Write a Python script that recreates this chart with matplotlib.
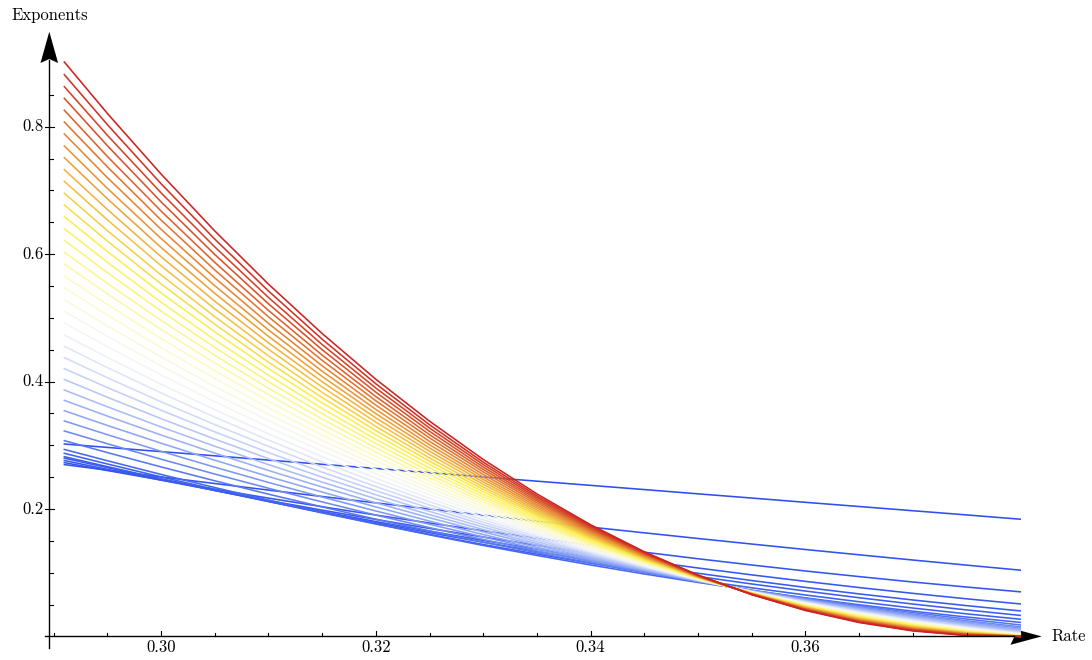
import matplotlib.pyplot as plt
from matplotlib.colors import LinearSegmentedColormap
from matplotlib.patches import Polygon

# rate grid shared by every curve
rate = [0.291, 0.295, 0.300, 0.305, 0.310, 0.315, 0.320, 0.325, 0.330, 0.335,
        0.340, 0.345, 0.350, 0.355, 0.360, 0.365, 0.370, 0.375, 0.380]

# dark blue, almost straight lines (drawn first)
blue_lines = [
    [0.3020, 0.2967, 0.2901, 0.2835, 0.2768, 0.2702, 0.2636, 0.2570, 0.2503, 0.2437, 0.2371, 0.2305, 0.2238, 0.2172, 0.2105, 0.2039, 0.1973, 0.1907, 0.1840],
    [0.2697, 0.2610, 0.2504, 0.2400, 0.2297, 0.2196, 0.2096, 0.1999, 0.1903, 0.1809, 0.1716, 0.1626, 0.1537, 0.1450, 0.1364, 0.1281, 0.1199, 0.1119, 0.1040],
    [0.2728, 0.2604, 0.2455, 0.2311, 0.2171, 0.2036, 0.1905, 0.1780, 0.1658, 0.1542, 0.1429, 0.1322, 0.1219, 0.1121, 0.1027, 0.0939, 0.0854, 0.0775, 0.0700],
    [0.2761, 0.2622, 0.2454, 0.2291, 0.2134, 0.1982, 0.1836, 0.1695, 0.1560, 0.1430, 0.1306, 0.1187, 0.1074, 0.0966, 0.0864, 0.0767, 0.0676, 0.0590, 0.0510],
    [0.2798, 0.2649, 0.2467, 0.2292, 0.2123, 0.1960, 0.1803, 0.1652, 0.1508, 0.1369, 0.1237, 0.1111, 0.0991, 0.0877, 0.0769, 0.0667, 0.0572, 0.0483, 0.0400],
    [0.2821, 0.2665, 0.2476, 0.2293, 0.2117, 0.1947, 0.1784, 0.1628, 0.1478, 0.1334, 0.1196, 0.1065, 0.0941, 0.0823, 0.0712, 0.0607, 0.0508, 0.0416, 0.0330],
    [0.2874, 0.2707, 0.2504, 0.2308, 0.2120, 0.1939, 0.1766, 0.1601, 0.1443, 0.1292, 0.1148, 0.1012, 0.0884, 0.0763, 0.0650, 0.0544, 0.0445, 0.0354, 0.0270],
    [0.2935, 0.2758, 0.2543, 0.2337, 0.2139, 0.1949, 0.1767, 0.1594, 0.1428, 0.1271, 0.1121, 0.0980, 0.0847, 0.0722, 0.0605, 0.0497, 0.0396, 0.0304, 0.0220],
]

# curved family, light blue -> white -> yellow -> red
curved = [
    [0.3073, 0.2886, 0.2661, 0.2443, 0.2233, 0.2033, 0.1840, 0.1656, 0.1480, 0.1313, 0.1153, 0.1003, 0.0860, 0.0726, 0.0600, 0.0483, 0.0374, 0.0273, 0.0180],
    [0.3225, 0.3025, 0.2782, 0.2549, 0.2326, 0.2111, 0.1905, 0.1708, 0.1521, 0.1342, 0.1173, 0.1013, 0.0863, 0.0721, 0.0589, 0.0465, 0.0351, 0.0246, 0.0150],
    [0.3382, 0.3167, 0.2906, 0.2657, 0.2417, 0.2188, 0.1969, 0.1760, 0.1561, 0.1372, 0.1193, 0.1025, 0.0866, 0.0718, 0.0580, 0.0452, 0.0334, 0.0227, 0.0130],
    [0.3543, 0.3312, 0.3033, 0.2766, 0.2510, 0.2266, 0.2033, 0.1810, 0.1599, 0.1399, 0.1211, 0.1034, 0.0869, 0.0714, 0.0571, 0.0440, 0.0320, 0.0210, 0.0112],
    [0.3705, 0.3459, 0.3162, 0.2878, 0.2605, 0.2345, 0.2097, 0.1863, 0.1640, 0.1430, 0.1231, 0.1046, 0.0873, 0.0713, 0.0564, 0.0429, 0.0306, 0.0196, 0.0097],
    [0.3868, 0.3605, 0.3288, 0.2986, 0.2697, 0.2422, 0.2160, 0.1912, 0.1677, 0.1456, 0.1249, 0.1056, 0.0876, 0.0710, 0.0557, 0.0418, 0.0293, 0.0182, 0.0084],
    [0.4034, 0.3755, 0.3419, 0.3098, 0.2791, 0.2500, 0.2223, 0.1962, 0.1716, 0.1484, 0.1267, 0.1066, 0.0879, 0.0708, 0.0551, 0.0409, 0.0282, 0.0170, 0.0073],
    [0.4204, 0.3907, 0.3551, 0.3211, 0.2886, 0.2579, 0.2287, 0.2013, 0.1754, 0.1512, 0.1285, 0.1076, 0.0882, 0.0705, 0.0543, 0.0399, 0.0271, 0.0159, 0.0063],
    [0.4377, 0.4061, 0.3684, 0.3325, 0.2983, 0.2659, 0.2352, 0.2063, 0.1792, 0.1539, 0.1304, 0.1086, 0.0885, 0.0703, 0.0538, 0.0390, 0.0260, 0.0149, 0.0055],
    [0.4553, 0.4221, 0.3822, 0.3442, 0.3082, 0.2740, 0.2418, 0.2115, 0.1832, 0.1567, 0.1321, 0.1095, 0.0888, 0.0700, 0.0531, 0.0381, 0.0251, 0.0140, 0.0048],
    [0.4732, 0.4381, 0.3959, 0.3559, 0.3180, 0.2822, 0.2484, 0.2167, 0.1871, 0.1595, 0.1340, 0.1105, 0.0891, 0.0698, 0.0525, 0.0373, 0.0242, 0.0132, 0.0042],
    [0.4920, 0.4549, 0.4106, 0.3685, 0.3285, 0.2908, 0.2553, 0.2222, 0.1912, 0.1625, 0.1359, 0.1116, 0.0894, 0.0696, 0.0519, 0.0365, 0.0233, 0.0124, 0.0036],
    [0.5104, 0.4714, 0.4248, 0.3806, 0.3388, 0.2994, 0.2623, 0.2276, 0.1953, 0.1653, 0.1377, 0.1126, 0.0898, 0.0694, 0.0514, 0.0358, 0.0225, 0.0116, 0.0031],
    [0.5286, 0.4877, 0.4388, 0.3925, 0.3488, 0.3076, 0.2689, 0.2327, 0.1991, 0.1680, 0.1395, 0.1135, 0.0901, 0.0692, 0.0508, 0.0350, 0.0217, 0.0109, 0.0027],
    [0.5474, 0.5046, 0.4534, 0.4049, 0.3591, 0.3161, 0.2758, 0.2381, 0.2032, 0.1709, 0.1413, 0.1145, 0.0904, 0.0689, 0.0502, 0.0342, 0.0209, 0.0102, 0.0023],
    [0.5658, 0.5210, 0.4676, 0.4171, 0.3693, 0.3245, 0.2824, 0.2434, 0.2072, 0.1738, 0.1432, 0.1156, 0.0907, 0.0688, 0.0497, 0.0335, 0.0201, 0.0097, 0.0020],
    [0.5846, 0.5378, 0.4820, 0.4293, 0.3796, 0.3330, 0.2893, 0.2487, 0.2111, 0.1766, 0.1450, 0.1165, 0.0910, 0.0686, 0.0491, 0.0328, 0.0194, 0.0091, 0.0017],
    [0.6030, 0.5543, 0.4962, 0.4414, 0.3897, 0.3413, 0.2960, 0.2540, 0.2151, 0.1793, 0.1467, 0.1174, 0.0913, 0.0684, 0.0486, 0.0320, 0.0186, 0.0084, 0.0014],
    [0.6218, 0.5711, 0.5107, 0.4537, 0.4000, 0.3497, 0.3028, 0.2592, 0.2190, 0.1821, 0.1486, 0.1184, 0.0916, 0.0681, 0.0480, 0.0313, 0.0179, 0.0079, 0.0012],
    [0.6401, 0.5874, 0.5247, 0.4656, 0.4100, 0.3579, 0.3094, 0.2644, 0.2229, 0.1849, 0.1504, 0.1194, 0.0919, 0.0679, 0.0475, 0.0306, 0.0172, 0.0073, 0.0010],
    [0.6589, 0.6043, 0.5393, 0.4781, 0.4205, 0.3667, 0.3164, 0.2699, 0.2270, 0.1878, 0.1522, 0.1205, 0.0923, 0.0679, 0.0471, 0.0301, 0.0166, 0.0069, 0.0008],
    [0.6772, 0.6207, 0.5534, 0.4901, 0.4305, 0.3749, 0.3230, 0.2750, 0.2308, 0.1905, 0.1540, 0.1214, 0.0926, 0.0677, 0.0466, 0.0294, 0.0160, 0.0065, 0.0007],
    [0.6956, 0.6371, 0.5675, 0.5020, 0.4405, 0.3831, 0.3296, 0.2801, 0.2346, 0.1932, 0.1557, 0.1223, 0.0929, 0.0675, 0.0461, 0.0287, 0.0153, 0.0060, 0.0006],
    [0.7144, 0.6540, 0.5820, 0.5143, 0.4508, 0.3915, 0.3364, 0.2855, 0.2387, 0.1960, 0.1575, 0.1233, 0.0932, 0.0673, 0.0456, 0.0281, 0.0147, 0.0055, 0.0005],
    [0.7327, 0.6703, 0.5961, 0.5263, 0.4609, 0.3998, 0.3430, 0.2906, 0.2425, 0.1987, 0.1593, 0.1242, 0.0935, 0.0671, 0.0451, 0.0274, 0.0141, 0.0051, 0.0004],
    [0.7515, 0.6871, 0.6106, 0.5386, 0.4711, 0.4081, 0.3497, 0.2958, 0.2464, 0.2015, 0.1611, 0.1252, 0.0938, 0.0669, 0.0446, 0.0267, 0.0134, 0.0046, 0.0003],
    [0.7699, 0.7035, 0.6247, 0.5506, 0.4812, 0.4164, 0.3563, 0.3009, 0.2502, 0.2042, 0.1628, 0.1261, 0.0941, 0.0668, 0.0441, 0.0261, 0.0128, 0.0042, 0.0002],
    [0.7887, 0.7203, 0.6392, 0.5629, 0.4914, 0.4248, 0.3631, 0.3062, 0.2542, 0.2070, 0.1646, 0.1271, 0.0944, 0.0666, 0.0436, 0.0255, 0.0122, 0.0038, 0.0002],
    [0.8075, 0.7372, 0.6537, 0.5753, 0.5018, 0.4334, 0.3699, 0.3116, 0.2583, 0.2099, 0.1665, 0.1282, 0.0948, 0.0665, 0.0432, 0.0249, 0.0116, 0.0034, 0.0001],
    [0.8259, 0.7535, 0.6678, 0.5872, 0.5118, 0.4416, 0.3765, 0.3167, 0.2621, 0.2126, 0.1682, 0.1291, 0.0951, 0.0663, 0.0427, 0.0243, 0.0111, 0.0030, 0.0001],
    [0.8447, 0.7704, 0.6823, 0.5996, 0.5222, 0.4501, 0.3834, 0.3220, 0.2659, 0.2153, 0.1700, 0.1300, 0.0954, 0.0661, 0.0422, 0.0236, 0.0104, 0.0025, 0.0000],
    [0.8630, 0.7868, 0.6964, 0.6115, 0.5321, 0.4582, 0.3899, 0.3271, 0.2698, 0.2180, 0.1717, 0.1309, 0.0957, 0.0659, 0.0417, 0.0230, 0.0098, 0.0021, 0.0000],
    [0.8818, 0.8035, 0.7107, 0.6237, 0.5423, 0.4666, 0.3966, 0.3323, 0.2736, 0.2207, 0.1735, 0.1319, 0.0960, 0.0658, 0.0413, 0.0225, 0.0093, 0.0018, 0.0000],
    [0.9017, 0.8211, 0.7259, 0.6366, 0.5531, 0.4755, 0.4037, 0.3379, 0.2778, 0.2237, 0.1753, 0.1329, 0.0963, 0.0656, 0.0407, 0.0218, 0.0086, 0.0014, 0.0000],
]

x_major = [0.30, 0.32, 0.34, 0.36]
x_labels = ['0.30', '0.32', '0.34', '0.36']
y_major = [0.2, 0.4, 0.6, 0.8]
y_labels = ['0.2', '0.4', '0.6', '0.8']

# pixel -> data helpers (figure is 1092 x 660 px)
X0 = 0.30 - 161 / 10740
def px(x):
    return X0 + x / 10740
def py(y):
    return (636.4 - y) / 637

temp_map = LinearSegmentedColormap.from_list('temp', [
    (0.0, '#2f4fee'), (0.16, '#4062f0'), (0.26, '#8aa3f3'), (0.45, '#f3f5fc'),
    (0.55, '#fdfbcc'), (0.68, '#fbf04f'), (0.83, '#ea9535'), (1.0, '#cc2323')])

fig = plt.figure(figsize=(10.92, 6.6), dpi=100)
ax = fig.add_axes([0, 0, 1, 1])
ax.set_xlim(px(0), px(1092))
ax.set_ylim(py(660), py(0))
ax.axis('off')

all_curves = blue_lines + curved
n = len(all_curves)
for k, ys in enumerate(all_curves):
    ax.plot(rate, ys, color=temp_map(k / (n - 1)), lw=1.15, solid_joinstyle='round')

# axes lines and arrow heads
ax_x = px(49.3)
ax.plot([px(45), px(1014)], [0, 0], color='black', lw=1.0)
ax.plot([ax_x, ax_x], [py(648), py(60)], color='black', lw=1.0)
ax.add_patch(Polygon([(ax_x, py(31.7)), (px(40.5), py(63)), (ax_x, py(59)), (px(58.1), py(63))],
                     closed=True, color='black', lw=0))
ax.add_patch(Polygon([(px(1041.7), 0), (px(1010.5), py(628)), (px(1014.5), 0), (px(1010.5), py(644.8))],
                     closed=True, color='black', lw=0))

# ticks
for i in range(1, 18):
    v = i * 0.05
    if round(v, 2) in y_major:
        ax.plot([px(45.3), px(54)], [v, v], color='black', lw=0.8)
    else:
        ax.plot([ax_x, px(52.6)], [v, v], color='black', lw=0.8)
for i in range(0, 18):
    v = 0.29 + i * 0.005
    if any(abs(v - m) < 1e-6 for m in x_major):
        ax.plot([v, v], [0, py(630.8)], color='black', lw=0.8)
    else:
        ax.plot([v, v], [0, py(633)], color='black', lw=0.8)

font = dict(family='cmr10', fontsize=12, color='black')
for v, lab in zip(y_major, y_labels):
    ax.text(px(43.5), v, lab, ha='right', va='center', **font)
for v, lab in zip(x_major, x_labels):
    ax.text(v, py(647), lab, ha='center', va='center', **font)
ax.text(px(49.5), py(15.5), 'Exponents', ha='center', va='center', **font)
ax.text(px(1051.5), py(636), 'Rate', ha='left', va='center', **font)

fig.savefig('out.png', dpi=100)
